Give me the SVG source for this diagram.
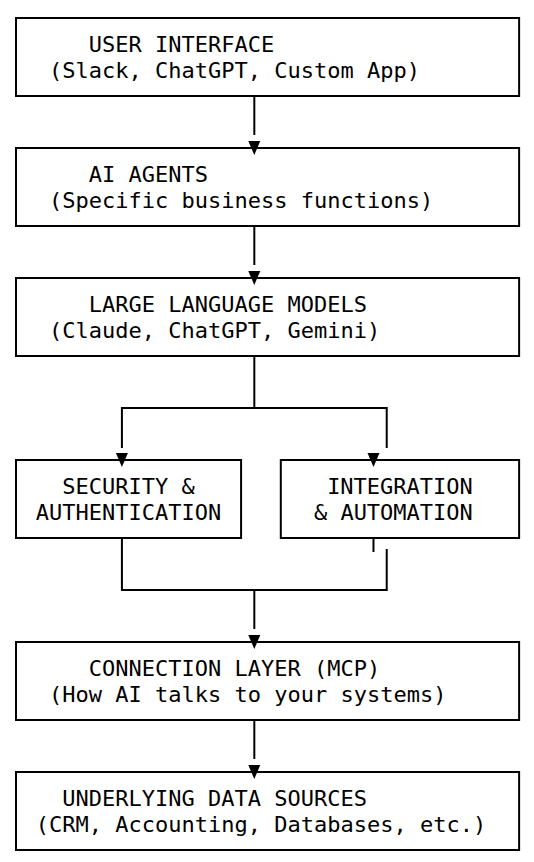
<svg xmlns="http://www.w3.org/2000/svg" width="534" height="862" viewBox="0 0 534 862">
<defs>
<style>
.box{fill:none;stroke:#000;stroke-width:2}
.ln{fill:none;stroke:#000;stroke-width:2}
.ah{fill:#000;stroke:none}
text{font-family:"DejaVu Sans Mono","Liberation Mono",monospace;font-size:22px;fill:#000;white-space:pre}
</style>
</defs>
<rect width="534" height="862" fill="#fff"/>
<g id="connectors">
<line class="ln" x1="254.32" y1="96" x2="254.32" y2="135"/>
<polygon class="ah" points="248.3,141 260.3,141 254.3,155"/>
<line class="ln" x1="254.32" y1="226" x2="254.32" y2="265"/>
<polygon class="ah" points="248.3,271 260.3,271 254.3,285"/>
<polyline class="ln" points="254.32,356 254.32,408"/>
<polyline class="ln" points="121.92,448 121.92,408 386.72,408 386.72,448"/>
<polygon class="ah" points="115.9,453 127.9,453 121.9,467"/>
<polygon class="ah" points="367.5,453 379.5,453 373.5,467"/>
<line class="ln" x1="373.48" y1="538" x2="373.48" y2="552"/>
<polyline class="ln" points="121.92,538 121.92,590 386.72,590 386.72,549"/>
<line class="ln" x1="254.32" y1="590" x2="254.32" y2="629"/>
<polygon class="ah" points="248.3,635 260.3,635 254.3,649"/>
<line class="ln" x1="254.32" y1="720" x2="254.32" y2="759"/>
<polygon class="ah" points="248.3,765 260.3,765 254.3,779"/>
</g>
<g id="user-interface">
<rect class="box" x="16" y="18" width="503.12" height="78"/>
<text x="88.82" y="52">USER INTERFACE</text>
<text x="49.1" y="78">(Slack, ChatGPT, Custom App)</text>
</g>
<g id="ai-agents">
<rect class="box" x="16" y="148" width="503.12" height="78"/>
<text x="88.82" y="182">AI AGENTS</text>
<text x="49.1" y="208">(Specific business functions)</text>
</g>
<g id="llm">
<rect class="box" x="16" y="278" width="503.12" height="78"/>
<text x="88.82" y="312">LARGE LANGUAGE MODELS</text>
<text x="49.1" y="338">(Claude, ChatGPT, Gemini)</text>
</g>
<g id="security">
<rect class="box" x="16" y="460" width="225.08" height="78"/>
<text x="62.34" y="494">SECURITY &amp;</text>
<text x="35.86" y="520">AUTHENTICATION</text>
</g>
<g id="integration">
<rect class="box" x="280.8" y="460" width="238.32" height="78"/>
<text x="327.14" y="494">INTEGRATION</text>
<text x="313.9" y="520">&amp; AUTOMATION</text>
</g>
<g id="connection-layer">
<rect class="box" x="16" y="642" width="503.12" height="78"/>
<text x="88.82" y="676">CONNECTION LAYER (MCP)</text>
<text x="49.1" y="702">(How AI talks to your systems)</text>
</g>
<g id="data-sources">
<rect class="box" x="16" y="772" width="503.12" height="78"/>
<text x="62.34" y="806">UNDERLYING DATA SOURCES</text>
<text x="35.86" y="832">(CRM, Accounting, Databases, etc.)</text>
</g>
</svg>
